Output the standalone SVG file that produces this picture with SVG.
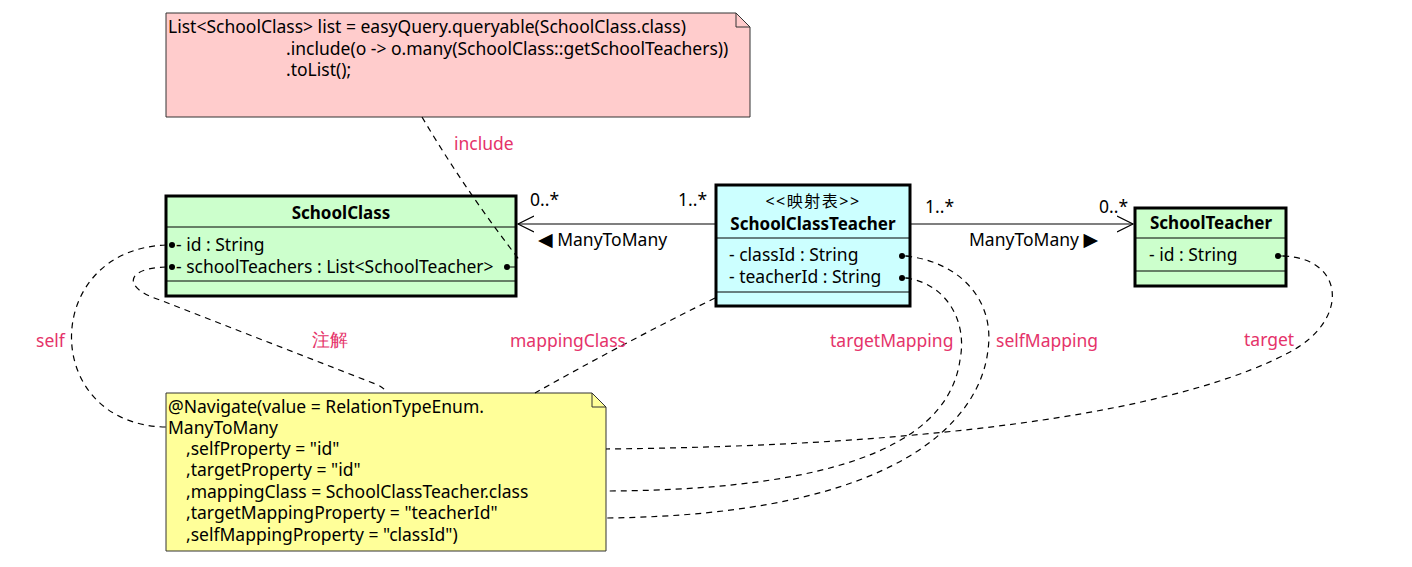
<svg xmlns="http://www.w3.org/2000/svg" width="1412" height="567" viewBox="0 0 1412 567">
<style>
text{font-family:"Noto Sans","DejaVu Sans",sans-serif;font-size:17.5px;fill:#000}
.b{font-weight:bold;font-size:17px}
.lbl{fill:#e5336a;font-size:17.5px}
.tri{font-family:"DejaVu Sans",sans-serif;font-size:19px}
.cls{stroke:#000;stroke-width:3}
.sep{stroke:#000;stroke-width:1}
.note{stroke:#333;stroke-width:1}
.dash{fill:none;stroke:#000;stroke-width:1.2;stroke-dasharray:6,5}
.assoc{fill:none;stroke:#000;stroke-width:1.2}
.dot{fill:#000}
</style>
<defs>
<marker id="open" markerWidth="18" markerHeight="18" refX="16" refY="9" orient="auto" markerUnits="userSpaceOnUse">
<path d="M0,1 L16,9 L0,17" fill="none" stroke="#000" stroke-width="1.2"/>
</marker>
</defs>
<rect width="1412" height="567" fill="#fff"/>

<g id="note-query">
<path class="note" d="M166,13 L736,13 L750,27 L750,117 L166,117 Z" fill="#ffcccc"/>
<path class="note" d="M736,13 L736,27 L750,27" fill="none"/>
<text x="168" y="33">List&lt;SchoolClass&gt; list = easyQuery.queryable(SchoolClass.class)</text>
<text x="286" y="55">.include(o -&gt; o.many(SchoolClass::getSchoolTeachers))</text>
<text x="286" y="76">.toList();</text>
</g>

<g id="SchoolClass">
<rect class="cls" x="166" y="196" width="350" height="100" fill="#ccffcc"/>
<line class="sep" x1="166" y1="227" x2="516" y2="227"/>
<line class="sep" x1="166" y1="281" x2="516" y2="281"/>
<text class="b" x="341" y="219" text-anchor="middle">SchoolClass</text>
<circle class="dot" cx="172" cy="245" r="3"/>
<text x="176" y="251">- id : String</text>
<circle class="dot" cx="172" cy="267" r="3"/>
<text x="176" y="273">- schoolTeachers : List&lt;SchoolTeacher&gt;</text>
<circle class="dot" cx="507" cy="267" r="3"/>
<line class="sep" x1="507" y1="267" x2="516" y2="267"/>
</g>

<g id="SchoolClassTeacher">
<rect class="cls" x="716" y="185" width="194" height="121" fill="#ccffff"/>
<line class="sep" x1="716" y1="238" x2="910" y2="238"/>
<line class="sep" x1="716" y1="292" x2="910" y2="292"/>
<text x="813" y="207" text-anchor="middle" style="font-family:'Noto Sans','Noto Sans CJK SC',sans-serif;font-size:16px;letter-spacing:1.5px">&lt;&lt;映射表&gt;&gt;</text>
<text class="b" x="813" y="230" text-anchor="middle">SchoolClassTeacher</text>
<text x="729" y="261">- classId : String</text>
<text x="729" y="283">- teacherId : String</text>
<circle class="dot" cx="902" cy="256" r="3"/>
<line class="sep" x1="902" y1="256" x2="910" y2="256"/>
<circle class="dot" cx="902" cy="278" r="3"/>
<line class="sep" x1="902" y1="278" x2="910" y2="278"/>
</g>

<g id="SchoolTeacher">
<rect class="cls" x="1135" y="208" width="151" height="78" fill="#ccffcc"/>
<line class="sep" x1="1135" y1="238" x2="1286" y2="238"/>
<line class="sep" x1="1135" y1="271" x2="1286" y2="271"/>
<text class="b" x="1211" y="229" text-anchor="middle">SchoolTeacher</text>
<text x="1149" y="261">- id : String</text>
<circle class="dot" cx="1278" cy="256" r="3"/>
<line class="sep" x1="1278" y1="256" x2="1286" y2="256"/>
</g>

<g id="note-navigate">
<path class="note" d="M166,393 L592,393 L606,407 L606,551 L166,551 Z" fill="#ffff99"/>
<path class="note" d="M592,393 L592,407 L606,407" fill="none"/>
<text x="168" y="413">@Navigate(value = RelationTypeEnum.</text>
<text x="168" y="434">ManyToMany</text>
<text x="186" y="455">,selfProperty = "id"</text>
<text x="186" y="476">,targetProperty = "id"</text>
<text x="186" y="498">,mappingClass = SchoolClassTeacher.class</text>
<text x="186" y="519">,targetMappingProperty = "teacherId"</text>
<text x="186" y="541">,selfMappingProperty = "classId")</text>
</g>

<g id="connectors">
<path class="assoc" d="M715,224 L518,224" marker-end="url(#open)"/>
<path class="assoc" d="M911,224 L1133,224" marker-end="url(#open)"/>
<path class="dash" d="M422,117 Q465,190 521,262"/>
<path class="dash" d="M166,245 C40,250 40,425 166,427"/>
<path class="dash" d="M166,267 C125,268 122,288 160,300 L378,385 Q386,389 386,393"/>
<path class="dash" d="M715,298 Q620,345 535,393"/>
<path class="dash" d="M906,278 C945,283 968,320 960,360 C950,430 870,490 606,491"/>
<path class="dash" d="M906,256 C960,262 995,300 988,350 C980,420 900,515 606,518"/>
<path class="dash" d="M1283,256 C1345,258 1350,320 1290,352 C1200,400 1000,445 606,449"/>
<text x="530" y="206">0..*</text>
<text x="678" y="206">1..*</text>
<text x="538" y="246"><tspan class="tri">◀</tspan> ManyToMany</text>
<text x="925" y="213">1..*</text>
<text x="1099" y="213">0..*</text>
<text x="969" y="246">ManyToMany <tspan class="tri">▶</tspan></text>
<text class="lbl" x="454" y="150">include</text>
<text class="lbl" x="36" y="347">self</text>
<text class="lbl" x="312" y="346">注解</text>
<text class="lbl" x="510" y="347">mappingClass</text>
<text class="lbl" x="830" y="347">targetMapping</text>
<text class="lbl" x="996" y="347">selfMapping</text>
<text class="lbl" x="1244" y="346">target</text>
</g>
</svg>
